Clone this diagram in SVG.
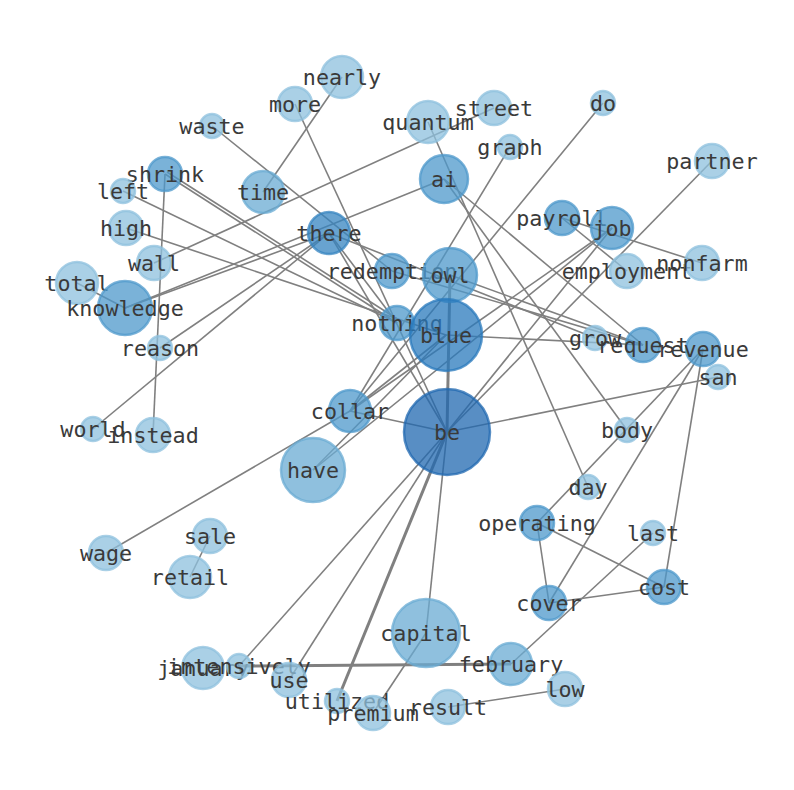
<svg xmlns="http://www.w3.org/2000/svg" width="794" height="790" viewBox="0 0 794 790">
<style>
.e{stroke:#808080;stroke-width:1.6;fill:none}
.t{stroke-width:3}
circle{stroke-width:2.5;fill-opacity:.75;stroke-opacity:.75}
.L{fill:#8ec0de;stroke:#8ec0de}
.M2{fill:#6aabd3;stroke:#6aabd3}
.M{fill:#4e98cb;stroke:#4e98cb}
.D{fill:#3684c0;stroke:#3684c0}
.B{fill:#2a7abc;stroke:#2a7abc}
.BE{fill:#2068b0;stroke:#2068b0}
text{font-family:"DejaVu Sans Mono","Liberation Mono",monospace;font-size:21.7px;fill:#3a3a3a;text-anchor:middle;dominant-baseline:central}
</style>
<rect width="794" height="790" fill="#fff"/>
<g id="edges">
<line class="e" x1="342" y1="77" x2="263" y2="192"/>
<line class="e" x1="295" y1="104" x2="447" y2="432"/>
<line class="e" x1="212" y1="126" x2="392" y2="271"/>
<line class="e" x1="494" y1="108" x2="154" y2="263"/>
<line class="e" x1="428" y1="122" x2="588" y2="487"/>
<line class="e" x1="444" y1="179" x2="125" y2="308"/>
<line class="e" x1="444" y1="179" x2="627" y2="430"/>
<line class="e" x1="444" y1="179" x2="643" y2="345"/>
<line class="e" x1="510" y1="147" x2="350" y2="411"/>
<line class="e" x1="603" y1="103" x2="350" y2="411"/>
<line class="e" x1="712" y1="161" x2="447" y2="432"/>
<line class="e" x1="562" y1="218" x2="702" y2="263"/>
<line class="e" x1="562" y1="218" x2="627" y2="271"/>
<line class="e" x1="612" y1="228" x2="350" y2="411"/>
<line class="e" x1="612" y1="228" x2="313" y2="470"/>
<line class="e" x1="612" y1="228" x2="447" y2="432"/>
<line class="e" x1="125" y1="308" x2="329" y2="233"/>
<line class="e" x1="77" y1="283" x2="125" y2="308"/>
<line class="e" x1="160" y1="348" x2="329" y2="233"/>
<line class="e" x1="93" y1="429" x2="329" y2="233"/>
<line class="e" x1="165" y1="174" x2="153" y2="435"/>
<line class="e" x1="165" y1="174" x2="397" y2="323"/>
<line class="e" x1="167" y1="172" x2="402" y2="322"/>
<line class="e" x1="123" y1="191" x2="397" y2="323"/>
<line class="e" x1="126" y1="228" x2="446" y2="335"/>
<line class="e" x1="329" y1="233" x2="397" y2="323"/>
<line class="e" x1="329" y1="233" x2="447" y2="432"/>
<line class="e" x1="329" y1="233" x2="595" y2="338"/>
<line class="e" x1="392" y1="271" x2="643" y2="345"/>
<line class="e" x1="450" y1="275" x2="643" y2="345"/>
<line class="e" x1="446" y1="335" x2="643" y2="345"/>
<line class="e t" x1="450" y1="275" x2="447" y2="432"/>
<line class="e" x1="350" y1="411" x2="447" y2="432"/>
<line class="e" x1="350" y1="411" x2="446" y2="335"/>
<line class="e" x1="106" y1="553" x2="350" y2="411"/>
<line class="e" x1="313" y1="470" x2="446" y2="335"/>
<line class="e" x1="703" y1="349" x2="537" y2="523"/>
<line class="e" x1="703" y1="349" x2="549" y2="603"/>
<line class="e" x1="703" y1="349" x2="664" y2="587"/>
<line class="e" x1="447" y1="432" x2="718" y2="377"/>
<line class="e" x1="537" y1="523" x2="549" y2="603"/>
<line class="e" x1="537" y1="523" x2="664" y2="587"/>
<line class="e" x1="549" y1="603" x2="664" y2="587"/>
<line class="e" x1="653" y1="533" x2="511" y2="664"/>
<line class="e" x1="426" y1="633" x2="447" y2="432"/>
<line class="e" x1="426" y1="633" x2="373" y2="713"/>
<line class="e t" x1="447" y1="432" x2="337" y2="701"/>
<line class="e" x1="447" y1="432" x2="289" y2="680"/>
<line class="e" x1="447" y1="432" x2="239" y2="666"/>
<line class="e t" x1="239" y1="666" x2="511" y2="664"/>
<line class="e" x1="448" y1="707" x2="565" y2="689"/>
<line class="e" x1="210" y1="536" x2="190" y2="577"/>
</g>
<g id="n-nearly"><circle class="L" cx="342" cy="77" r="21"/><text x="342" y="77">nearly</text></g>
<g id="n-more"><circle class="L" cx="295" cy="104" r="17"/><text x="295" y="104">more</text></g>
<g id="n-waste"><circle class="L" cx="212" cy="126" r="12"/><text x="212" y="126">waste</text></g>
<g id="n-quantum"><circle class="L" cx="428" cy="122" r="21"/><text x="428" y="122">quantum</text></g>
<g id="n-street"><circle class="L" cx="494" cy="108" r="17"/><text x="494" y="108">street</text></g>
<g id="n-do"><circle class="L" cx="603" cy="103" r="12"/><text x="603" y="103">do</text></g>
<g id="n-graph"><circle class="L" cx="510" cy="147" r="12"/><text x="510" y="147">graph</text></g>
<g id="n-partner"><circle class="L" cx="712" cy="161" r="17"/><text x="712" y="161">partner</text></g>
<g id="n-ai"><circle class="M" cx="444" cy="179" r="24"/><text x="444" y="179">ai</text></g>
<g id="n-shrink"><circle class="M" cx="165" cy="174" r="17"/><text x="165" y="174">shrink</text></g>
<g id="n-left"><circle class="L" cx="123" cy="191" r="12"/><text x="123" y="191">left</text></g>
<g id="n-time"><circle class="M2" cx="263" cy="192" r="21"/><text x="263" y="192">time</text></g>
<g id="n-high"><circle class="L" cx="126" cy="228" r="17"/><text x="126" y="228">high</text></g>
<g id="n-there"><circle class="D" cx="329" cy="233" r="21"/><text x="329" y="233">there</text></g>
<g id="n-payroll"><circle class="M" cx="562" cy="218" r="17"/><text x="562" y="218">payroll</text></g>
<g id="n-job"><circle class="M" cx="612" cy="228" r="21"/><text x="612" y="228">job</text></g>
<g id="n-wall"><circle class="L" cx="154" cy="263" r="17"/><text x="154" y="263">wall</text></g>
<g id="n-redemption"><circle class="M" cx="392" cy="271" r="17"/><text x="392" y="271">redemption</text></g>
<g id="n-owl"><circle class="M" cx="450" cy="275" r="27"/><text x="450" y="275">owl</text></g>
<g id="n-employment"><circle class="L" cx="627" cy="271" r="17"/><text x="627" y="271">employment</text></g>
<g id="n-nonfarm"><circle class="L" cx="702" cy="263" r="17"/><text x="702" y="263">nonfarm</text></g>
<g id="n-total"><circle class="L" cx="77" cy="283" r="21"/><text x="77" y="283">total</text></g>
<g id="n-knowledge"><circle class="M" cx="125" cy="308" r="27"/><text x="125" y="308">knowledge</text></g>
<g id="n-nothing"><circle class="M" cx="397" cy="323" r="17"/><text x="397" y="323">nothing</text></g>
<g id="n-blue"><circle class="B" cx="446" cy="335" r="36"/><text x="446" y="335">blue</text></g>
<g id="n-grow"><circle class="L" cx="595" cy="338" r="12"/><text x="595" y="338">grow</text></g>
<g id="n-request"><circle class="M" cx="643" cy="345" r="17"/><text x="643" y="345">request</text></g>
<g id="n-revenue"><circle class="M" cx="703" cy="349" r="17"/><text x="703" y="349">revenue</text></g>
<g id="n-san"><circle class="L" cx="718" cy="377" r="12"/><text x="718" y="377">san</text></g>
<g id="n-reason"><circle class="L" cx="160" cy="348" r="12"/><text x="160" y="348">reason</text></g>
<g id="n-collar"><circle class="M" cx="350" cy="411" r="21"/><text x="350" y="411">collar</text></g>
<g id="n-be"><circle class="BE" cx="447" cy="432" r="43"/><text x="447" y="432">be</text></g>
<g id="n-world"><circle class="L" cx="93" cy="429" r="12"/><text x="93" y="429">world</text></g>
<g id="n-instead"><circle class="L" cx="153" cy="435" r="17"/><text x="153" y="435">instead</text></g>
<g id="n-body"><circle class="L" cx="627" cy="430" r="12"/><text x="627" y="430">body</text></g>
<g id="n-have"><circle class="M2" cx="313" cy="470" r="32"/><text x="313" y="470">have</text></g>
<g id="n-day"><circle class="L" cx="588" cy="487" r="12"/><text x="588" y="487">day</text></g>
<g id="n-operating"><circle class="M" cx="537" cy="523" r="17"/><text x="537" y="523">operating</text></g>
<g id="n-last"><circle class="L" cx="653" cy="533" r="12"/><text x="653" y="533">last</text></g>
<g id="n-wage"><circle class="L" cx="106" cy="553" r="17"/><text x="106" y="553">wage</text></g>
<g id="n-sale"><circle class="L" cx="210" cy="536" r="17"/><text x="210" y="536">sale</text></g>
<g id="n-retail"><circle class="L" cx="190" cy="577" r="21"/><text x="190" y="577">retail</text></g>
<g id="n-cost"><circle class="M" cx="664" cy="587" r="17"/><text x="664" y="587">cost</text></g>
<g id="n-cover"><circle class="M" cx="549" cy="603" r="17"/><text x="549" y="603">cover</text></g>
<g id="n-capital"><circle class="M2" cx="426" cy="633" r="34"/><text x="426" y="633">capital</text></g>
<g id="n-january"><circle class="L" cx="203" cy="668" r="21"/><text x="203" y="668">january</text></g>
<g id="n-intensively"><circle class="L" cx="239" cy="666" r="12"/><text x="239" y="666">intensively</text></g>
<g id="n-february"><circle class="M2" cx="511" cy="664" r="21"/><text x="511" y="664">february</text></g>
<g id="n-use"><circle class="L" cx="289" cy="680" r="17"/><text x="289" y="680">use</text></g>
<g id="n-low"><circle class="L" cx="565" cy="689" r="17"/><text x="565" y="689">low</text></g>
<g id="n-utilized"><circle class="L" cx="337" cy="701" r="12"/><text x="337" y="701">utilized</text></g>
<g id="n-premium"><circle class="L" cx="373" cy="713" r="17"/><text x="373" y="713">premium</text></g>
<g id="n-result"><circle class="L" cx="448" cy="707" r="17"/><text x="448" y="707">result</text></g>
</svg>
